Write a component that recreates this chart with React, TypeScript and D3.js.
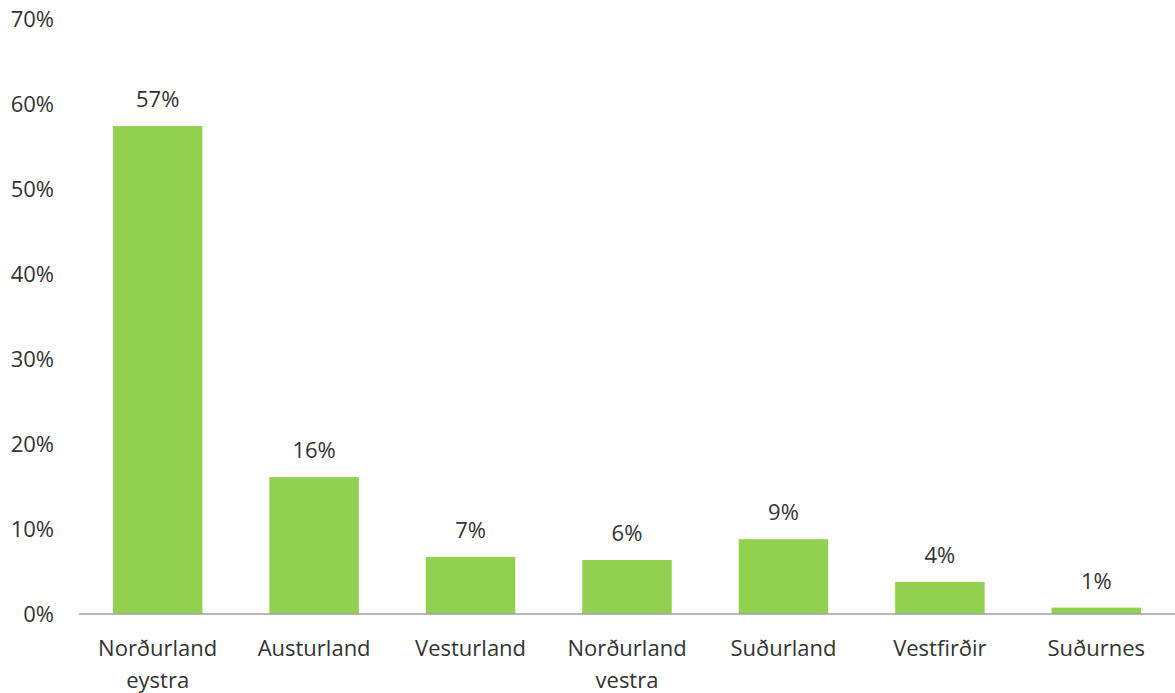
import React, { useEffect, useRef } from "react";
import * as d3 from "d3";

const categories: string[][] = [
  ["Norðurland", "eystra"],
  ["Austurland"],
  ["Vesturland"],
  ["Norðurland", "vestra"],
  ["Suðurland"],
  ["Vestfirðir"],
  ["Suðurnes"],
];
const values: number[] = [0.574, 0.161, 0.067, 0.0635, 0.088, 0.0376, 0.0075];
const valueLabels: string[] = ["57%", "16%", "7%", "6%", "9%", "4%", "1%"];
const yTicks: number[] = [0, 0.1, 0.2, 0.3, 0.4, 0.5, 0.6, 0.7];

const W = 1175;
const H = 693;

const App: React.FC = () => {
  const svgRef = useRef<SVGSVGElement | null>(null);

  useEffect(() => {
    document.body.style.margin = "0";
    const svg = d3.select(svgRef.current);
    svg.selectAll("*").remove();

    const left = 79;
    const right = W;
    const bottom = 614;
    const top = 19;
    const font = "'Open Sans', sans-serif";
    const textColor = "#333333";
    const fontSize = 22;

    const keys = categories.map((c) => c.join(" "));
    const x = d3.scaleBand<string>().domain(keys).range([left, right]).paddingInner(0.428).paddingOuter(0.217);
    const y = d3.scaleLinear().domain([0, 0.7]).range([bottom, top]);

    // y tick labels (no axis line, no gridlines)
    svg
      .append("g")
      .selectAll("text")
      .data(yTicks)
      .enter()
      .append("text")
      .attr("x", 54)
      .attr("y", (d) => y(d))
      .attr("dy", "0.35em")
      .attr("text-anchor", "end")
      .attr("font-family", font)
      .attr("font-size", fontSize)
      .attr("fill", textColor)
      .text((d) => d3.format(".0%")(d));

    // bars
    svg
      .append("g")
      .selectAll("rect")
      .data(values)
      .enter()
      .append("rect")
      .attr("x", (d, i) => x(keys[i])!)
      .attr("y", (d) => y(d))
      .attr("width", x.bandwidth())
      .attr("height", (d) => bottom - y(d))
      .attr("fill", "#92D050");

    // value labels
    svg
      .append("g")
      .selectAll("text")
      .data(values)
      .enter()
      .append("text")
      .attr("x", (d, i) => x(keys[i])! + x.bandwidth() / 2)
      .attr("y", (d) => y(d) - 19)
      .attr("text-anchor", "middle")
      .attr("font-family", font)
      .attr("font-size", fontSize)
      .attr("fill", textColor)
      .text((d, i) => valueLabels[i]);

    // x axis line
    svg
      .append("line")
      .attr("x1", left)
      .attr("x2", right)
      .attr("y1", bottom)
      .attr("y2", bottom)
      .attr("stroke", "#A0A0A0")
      .attr("stroke-width", 1.5);

    // category labels
    const cat = svg
      .append("g")
      .selectAll("text")
      .data(categories)
      .enter()
      .append("text")
      .attr("x", (d, i) => x(keys[i])! + x.bandwidth() / 2)
      .attr("y", 656)
      .attr("text-anchor", "middle")
      .attr("font-family", font)
      .attr("font-size", fontSize)
      .attr("fill", textColor);

    cat
      .selectAll("tspan")
      .data((d) => d)
      .enter()
      .append("tspan")
      .attr("x", function () {
        return (this.parentNode as SVGTextElement).getAttribute("x");
      })
      .attr("dy", (d, i) => (i === 0 ? 0 : 32))
      .text((d) => d);
  }, []);

  return <svg ref={svgRef} width={W} height={H} style={{ display: "block" }}></svg>;
};

export default App;
